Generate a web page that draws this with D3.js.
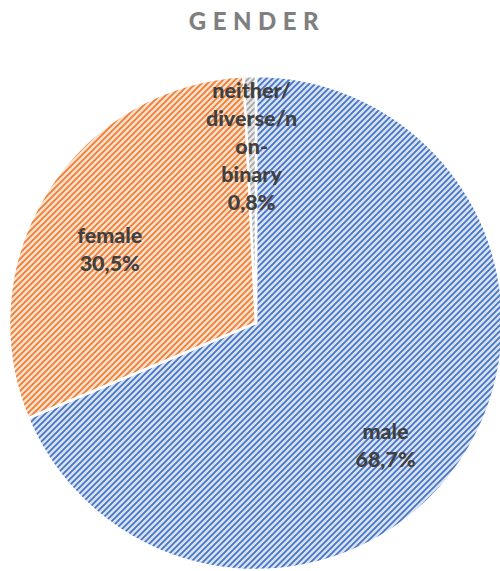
<!DOCTYPE html>
<html>
<head>
<meta charset="utf-8">
<script src="https://cdn.jsdelivr.net/npm/d3@7"></script>
<style>
  body { margin: 0; background: #fff; }
  svg text { font-family: Lato, "Open Sans", sans-serif; }
  .title { font-size: 24px; font-weight: 900; fill: #7f7f7f; letter-spacing: 6.5px; }
  .label { font-size: 21.5px; font-weight: 900; fill: #404040; }
</style>
</head>
<body>
<div id="chart"></div>
<script>
// chart data
let categories = ['male', 'female', 'neither/diverse/non-binary'];
let values = [68.7, 30.5, 0.8];
let labelLines = [
    ['male', '68,7%'],
    ['female', '30,5%'],
    ['neither/', 'diverse/n', 'on-', 'binary', '0,8%']
];
let strokeColors = ['#4472c4', '#ed7d31', '#a5a5a5'];
let fillColors = ['#d8e2f4', '#fcdfcc', '#e6e6e6'];

let width = 500, height = 571;
let cx = 256, cy = 323, radius = 247;

let svg = d3.select('#chart').append('svg')
    .attr('width', width)
    .attr('height', height);

// hatch patterns (wide upward diagonal)
let defs = svg.append('defs');
categories.forEach(function(c, i) {
    let p = defs.append('pattern')
        .attr('id', 'hatch' + i)
        .attr('patternUnits', 'userSpaceOnUse')
        .attr('width', 6)
        .attr('height', 6);
    p.append('rect')
        .attr('width', 6)
        .attr('height', 6)
        .attr('fill', fillColors[i]);
    p.append('path')
        .attr('d', 'M0,6 L6,0 M-1,1 L1,-1 M5,7 L7,5')
        .attr('stroke', strokeColors[i])
        .attr('stroke-width', 1.7);
});

svg.append('text')
    .attr('class', 'title')
    .attr('x', 257)
    .attr('y', 30)
    .attr('text-anchor', 'middle')
    .text('GENDER');

let pie = d3.pie().sort(null).value(function(d) { return d; });
let arc = d3.arc().innerRadius(0).outerRadius(radius);

let g = svg.append('g')
    .attr('transform', 'translate(' + cx + ',' + cy + ')');

let arcs = pie(values);

g.selectAll('path.slice')
    .data(arcs)
    .enter().append('path')
    .attr('class', 'slice')
    .attr('d', arc)
    .attr('fill', function(d, i) { return 'url(#hatch' + i + ')'; })
    .attr('stroke', '#fff')
    .attr('stroke-width', 2.5)
    .attr('stroke-linejoin', 'round');

// label placement: fraction of radius and angle shift (degrees) from mid-angle
let labelRadius = [0.725, 0.66, 0.71];
let labelShift = [10, -6, 0];
let lineHeight = 28;

arcs.forEach(function(d, i) {
    let a = (d.startAngle + d.endAngle) / 2 + labelShift[i] * Math.PI / 180;
    let r = radius * labelRadius[i];
    let x = Math.sin(a) * r;
    let y = -Math.cos(a) * r;
    let lines = labelLines[i];
    let t = g.append('text')
        .attr('class', 'label')
        .attr('text-anchor', 'middle');
    lines.forEach(function(line, j) {
        t.append('tspan')
            .attr('x', x)
            .attr('y', y + (j - (lines.length - 1) / 2) * lineHeight + 6)
            .text(line);
    });
});
</script>
</body>
</html>
